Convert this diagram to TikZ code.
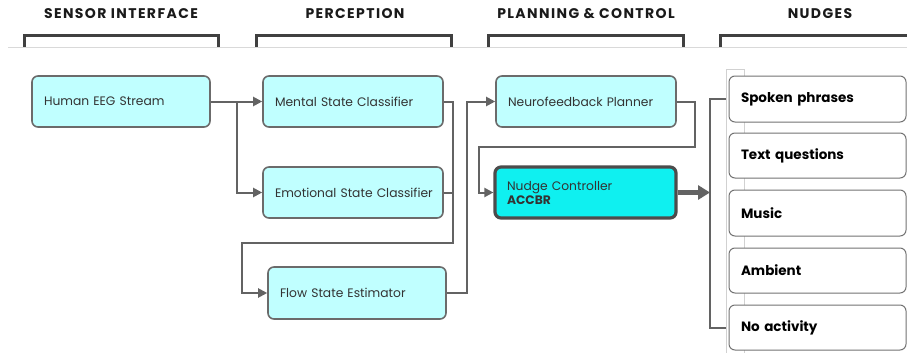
\documentclass[tikz,border=0pt]{standalone}
\usepackage{fontspec}
\setmainfont{Poppins}
\usetikzlibrary{arrows.meta,calc}
\definecolor{lncol}{HTML}{636363}
\definecolor{bdcol}{HTML}{6B6B6B}
\definecolor{lcyan}{HTML}{C0FFFF}
\definecolor{ccyan}{HTML}{0FF0F0}
\definecolor{hdcol}{HTML}{1A1A1A}
\begin{document}
\begin{tikzpicture}[x=1pt,y=-1pt,
  hdr/.style={font=\fontsize{14}{16}\selectfont\bfseries\addfontfeatures{LetterSpace=10}, text=hdcol},
  brk/.style={draw=black!75, line width=3pt},
  proc/.style={draw=bdcol, line width=1.6pt, fill=lcyan, rounded corners=6pt,
     align=left, inner xsep=12pt, inner ysep=0pt, text width=#1-24pt,
     minimum height=51pt, font=\fontsize{12.3}{14}\selectfont, text=black!80},
  ctrl/.style={proc=181pt, fill=ccyan, draw=black!70, line width=3.2pt},
  nudge/.style={draw=black!55, line width=1pt, fill=white, rounded corners=6pt,
     align=left, inner xsep=12pt, inner ysep=0pt, text width=177pt-24pt,
     minimum height=45pt, font=\fontsize{13.5}{15}\selectfont\bfseries, text=black},
  ln/.style={draw=lncol, line width=2pt},
  arr/.style={ln, -{Triangle[length=9pt,width=9pt]}},
]
\useasboundingbox (0,0) rectangle (907,353);
\fill[white] (0,0) rectangle (907,353);

% headers
\node[hdr] (h1) at (121,14) {SENSOR INTERFACE};
\node[hdr] (h2) at (355,14) {PERCEPTION};
\node[hdr] (h3) at (586,14) {PLANNING \& CONTROL};
\node[hdr] (h4) at (820,14) {NUDGES};
\draw[brk] (24,47) -- (24,36) -- (218,36) -- (218,47);
\draw[brk] (256,47) -- (256,36) -- (451,36) -- (451,47);
\draw[brk] (488,47) -- (488,36) -- (683,36) -- (683,47);
\draw[brk] (720,47) -- (720,36) -- (910,36);
\draw[black!15, line width=0.8pt] (8,47) -- (907,47);

% faint container
\draw[black!18, line width=0.8pt] (726,353) -- (726,69) -- (744,69) -- (744,353);

% nodes
\node[proc=178pt] (eeg) at (121,101.5) {\mbox{Human EEG Stream}};
\node[proc=180pt] (ment) at (353,101.5) {\mbox{Mental State Classifier}};
\node[proc=180pt] (emo) at (353,192.5) {\mbox{Emotional State Classifier}};
\node[proc=178pt, minimum height=52pt] (flow) at (357,293) {\mbox{Flow State Estimator}};
\node[proc=180pt] (plan) at (586,101.5) {\mbox{Neurofeedback Planner}};
\node[ctrl] (ctl) at (585.5,192.5) {Nudge Controller\\\textbf{ACCBR}};

\node[nudge, minimum height=46pt] (sp) at (817.5,99) {Spoken phrases};
\node[nudge] (tq) at (817.5,155.5) {Text questions};
\node[nudge, minimum height=46pt] (mu) at (817.5,213) {Music};
\node[nudge] (am) at (817.5,270.5) {Ambient};
\node[nudge] (na) at (817.5,327.5) {No activity};

% coordinates
\coordinate (b1) at (237,101.5);
\coordinate (j1) at (453,101.5);
\coordinate (j2) at (242,243);
\coordinate (k1) at (467,101.5);
\coordinate (m1) at (695,147);
\coordinate (m2) at (479,147);
\coordinate (bus) at (710,192.5);
\coordinate (spin) at (726,99);
\coordinate (nain) at (726,327.5);

% connectors
\draw[arr] (eeg.east) -- (ment.west);
\draw[arr] (b1) |- (emo.west);
\draw[arr] (ment.east) -- (j1) |- (j2) |- (flow.west);
\draw[ln] (emo.east) -- (emo.east -| j1);
\draw[arr] (flow.east) -| (k1) -- (plan.west);
\draw[arr] (plan.east) -| (m1) -- (m2) |- (ctl.west);
\draw[draw=lncol, line width=4.5pt, -{Triangle[length=12pt,width=14pt]}] (ctl.east) -- (bus);
\draw[ln] (spin) -| (bus) |- (nain);
\end{tikzpicture}
\end{document}
